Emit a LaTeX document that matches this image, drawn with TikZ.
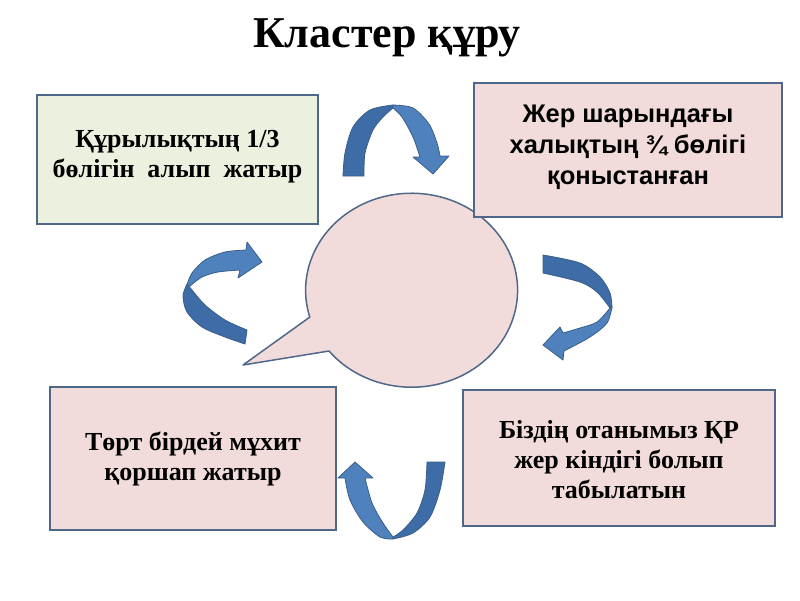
\documentclass[tikz,border=0pt]{standalone}
\usepackage{fontspec}
\setmainfont{Liberation Serif}
\newfontfamily\arialf{Liberation Sans}
\definecolor{boxgreen}{RGB}{235,241,222}
\definecolor{boxpink}{RGB}{242,220,219}
\definecolor{boxline}{RGB}{79,104,138}
\definecolor{arrlight}{RGB}{79,129,189}
\definecolor{arrdark}{RGB}{62,108,166}
\definecolor{arrline}{RGB}{56,93,138}
\tikzset{
  infobox/.style={draw=boxline, line width=2pt, minimum width=#1},
  boxtext/.style={align=center, font=\bfseries\fontsize{26}{30}\selectfont},
  sanstext/.style={align=center, font=\arialf\bfseries\fontsize{25.5}{31}\selectfont},
  arrL/.style={fill=arrlight, draw=arrline, line width=0.8pt, line join=round},
  arrD/.style={fill=arrdark, draw=arrline, line width=0.8pt, line join=round},
  bubble/.style={fill=boxpink, draw=boxline, line width=1.5pt, line join=round}
}
\begin{document}
\begin{tikzpicture}[x=1pt,y=-1pt]
\useasboundingbox (0,0) rectangle (800,600);
% title
\node[anchor=base, font=\bfseries\fontsize{44}{50}\selectfont] (title) at (387,47) {Кластер құру};
% callout bubble
\coordinate (tip) at (243,365);
\draw[bubble] (tip) -- (329,351) arc[start angle=141.2, end angle=-196.1, x radius=106, y radius=97] -- cycle;
% boxes
\node[infobox=281pt, minimum height=129pt, fill=boxgreen] (b1) at (177.5,159.5) {};
\node[infobox=308pt, minimum height=134pt, fill=boxpink] (b2) at (628,150) {};
\node[infobox=286pt, minimum height=143pt, fill=boxpink] (b3) at (193,458.5) {};
\node[infobox=312pt, minimum height=136pt, fill=boxpink] (b4) at (619,458) {};
\node[boxtext] (t1) at ([yshift=3pt]b1.center) {Құрылықтың 1/3\\бөлігін\ \ алып\ \ жатыр};
\node[sanstext] (t2) at ([yshift=3pt]b2.center) {Жер шарындағы\\халықтың ¾ бөлігі\\қоныстанған};
\node[boxtext] (t3) at (b3.center) {Төрт бірдей мұхит\\қоршап жатыр};
\node[boxtext] (t4) at ([yshift=-2pt]b4.center) {Біздің отанымыз ҚР\\жер кіндігі болып\\табылатын};
% arrow top
\draw[arrD] plot[smooth] coordinates {(343,176)(345,153)(353,127)(370,110)(393,105)} -- plot[smooth] coordinates {(393,108)(383,117)(373,130)(365,153)(364,176)} -- cycle;
\draw[arrL] plot[smooth] coordinates {(393,105)(413,108)(429,124)(437,143)(440,156)} -- (449,156) -- (433,174) -- (413,157) -- plot[smooth] coordinates {(420,157)(413,137)(402,117)(393,108)} -- cycle;
% arrow left
\draw[arrD] plot[smooth] coordinates {(187,284)(183,296)(187,312)(202,327)(225,337)(245,344)} -- plot[smooth] coordinates {(247,330)(225,320)(205,305)(192,290)(188,285)} -- cycle;
\draw[arrL] plot[smooth] coordinates {(187,285)(192,273)(205,260)(225,252)(246,250)} -- (247,242) -- (262,262) -- (238,278) -- plot[smooth] coordinates {(240,270)(218,272)(202,277)(190,286)} -- cycle;
% arrow right
\draw[arrD] plot[smooth] coordinates {(543,255)(580,263)(600,277)(610,293)(612,308)} -- plot[smooth] coordinates {(610,308)(597,292)(580,282)(543,273)} -- cycle;
\draw[arrL] plot[smooth] coordinates {(612,307)(607,323)(590,337)(564,351)} -- (563,360) -- (543,345) -- (560,327) -- plot[smooth] coordinates {(563,333)(580,328)(597,322)(610,308)} -- cycle;
% arrow bottom
\draw[arrD] plot[smooth] coordinates {(393,539)(413,533)(430,517)(440,490)(445,462)} -- plot[smooth] coordinates {(427,462)(425,490)(417,513)(403,530)(393,537)} -- cycle;
\draw[arrL] plot[smooth] coordinates {(393,539)(380,537)(363,522)(350,500)(345,478)} -- (338,478) -- (355,462) -- (373,478) -- plot[smooth] coordinates {(365,478)(372,503)(383,523)(393,537)} -- cycle;
\end{tikzpicture}
\end{document}
